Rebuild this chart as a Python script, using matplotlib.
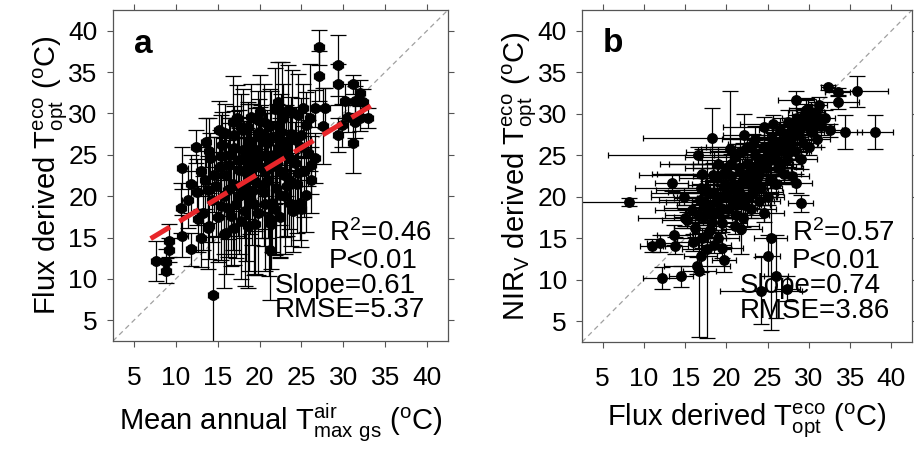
import matplotlib
matplotlib.use('Agg')
from matplotlib import pyplot as plt

plt.rcParams['font.family'] = ['Liberation Sans', 'DejaVu Sans']
plt.rcParams['mathtext.default'] = 'regular'

# ---- panel a: mean annual Tmax gs (x) vs flux derived Topt (y)
a_x = [27.1, 27.1, 29.4, 29.4, 31.2, 32.0, 30.2, 31.4, 32.4, 27.8,
       33.0, 32.0, 30.6, 31.4, 29.8, 29.4, 31.2, 26.6, 25.2, 22.2,
       19.8, 18.6, 17.8, 12.4, 10.8, 13.0, 10.6, 11.4, 10.8, 11.8,
       9.2, 9.2, 7.6, 8.8, 8.8, 14.4, 21.2, 21.4, 18.6, 13.8,
       15.7, 26.2, 26.2, 26.6, 25.0, 23.8, 14.1, 22.7, 26.0, 27.6,
       12.5, 13.2, 13.5, 14.0, 14.3, 14.8, 15.0, 15.3, 15.5, 15.8,
       16.0, 16.2, 16.5, 16.8, 17.0, 17.2, 17.5, 17.8, 18.0, 18.2,
       18.5, 18.8, 19.0, 19.2, 19.5, 19.8, 20.0, 20.2, 20.5, 20.8,
       21.0, 21.2, 21.5, 21.8, 22.0, 22.3, 22.5, 22.8, 23.0, 23.2,
       23.5, 23.8, 24.0, 24.2, 24.5, 24.8, 25.0, 25.3, 25.5, 16.0,
       17.0, 19.5, 14.0, 13.0, 22.5, 20.5, 21.8, 19.0, 18.0, 16.8,
       15.2, 13.6, 24.6, 23.4, 17.6, 20.6, 18.4, 15.4, 12.6, 11.8,
       16.4, 17.4, 18.2, 18.9, 19.6, 20.3, 20.9, 21.6, 22.1, 22.9,
       23.6, 24.3, 17.0, 18.6, 19.9, 21.4, 22.6, 16.2, 17.6, 19.1,
       20.7, 21.9, 23.3, 24.6, 15.4, 14.6, 13.8, 15.9, 17.3, 20.1,
       23.9, 25.6, 24.9, 25.8, 22.4, 19.4, 16.6, 18.3, 21.1, 20.0]
a_y = [38.0, 34.5, 35.8, 33.5, 33.5, 32.5, 31.5, 31.5, 31.4, 30.7,
       29.4, 29.4, 29.6, 29.0, 28.6, 27.4, 26.4, 30.6, 30.6, 31.4,
       29.2, 28.4, 28.4, 26.0, 23.4, 23.0, 18.6, 19.6, 15.2, 13.6,
       14.6, 13.5, 12.2, 12.1, 11.0, 8.1, 13.5, 16.7, 16.4, 16.2,
       15.4, 22.0, 23.8, 24.6, 18.4, 19.0, 24.6, 30.0, 29.5, 28.5,
       20.5, 18.0, 22.0, 25.5, 19.5, 21.2, 17.5, 23.5, 26.2, 20.0,
       22.6, 18.6, 25.0, 21.5, 27.4, 19.0, 23.2, 17.0, 25.6, 21.0,
       22.8, 19.5, 26.6, 24.0, 21.8, 18.0, 23.5, 27.0, 20.5, 25.0,
       22.0, 28.5, 19.2, 24.5, 21.0, 26.0, 23.0, 29.5, 20.0, 25.5,
       22.0, 27.5, 18.2, 24.0, 21.5, 19.2, 26.0, 23.0, 20.2, 15.6,
       16.2, 16.6, 16.4, 15.0, 17.5, 29.0, 30.5, 29.6, 28.0, 29.0,
       28.0, 26.5, 29.8, 30.4, 24.4, 23.0, 20.2, 18.8, 17.2, 21.5,
       23.8, 21.2, 24.6, 22.4, 25.6, 21.4, 26.4, 23.6, 25.2, 22.6,
       24.6, 26.8, 25.8, 26.2, 27.8, 27.2, 27.8, 20.8, 20.0, 20.6,
       19.0, 18.4, 21.2, 22.8, 24.8, 22.6, 20.8, 27.6, 29.4, 30.2,
       30.2, 28.6, 27.4, 25.2, 20.2, 19.0, 17.6, 18.2, 17.4, 24.8]
a_xerr = [0.6] * 160
a_yerr = [2.1, 3.0, 3.7, 2.5, 1.2, 1.5, 2.0, 1.8, 1.5, 2.4,
          1.2, 1.5, 1.8, 2.0, 2.6, 2.0, 3.6, 2.2, 3.0, 4.8,
          3.5, 3.0, 4.0, 2.0, 2.5, 3.0, 3.0, 3.5, 2.5, 2.0,
          2.0, 1.5, 2.4, 1.5, 1.5, 7.0, 6.0, 5.5, 7.5, 5.0,
          6.5, 4.0, 3.5, 3.0, 4.5, 5.0, 3.0, 6.2, 6.5, 4.6,
          4.0, 4.5, 3.5, 4.0, 5.0, 6.0, 5.5, 4.5, 4.0, 7.0,
          5.0, 6.0, 4.5, 8.0, 3.5, 6.5, 5.0, 7.0, 4.0, 6.0,
          5.5, 8.5, 4.5, 5.0, 6.0, 7.5, 5.5, 4.0, 6.5, 5.0,
          7.0, 4.5, 6.0, 5.5, 8.0, 5.0, 6.5, 4.0, 7.0, 5.5,
          6.0, 4.5, 5.0, 5.0, 6.0, 4.5, 4.0, 5.5, 4.5, 5.0,
          4.5, 6.0, 4.0, 3.5, 5.0, 4.5, 5.0, 4.0, 5.0, 5.5,
          3.5, 3.0, 5.0, 5.5, 6.0, 7.0, 8.0, 6.5, 4.0, 3.5,
          5.0, 6.0, 4.5, 7.0, 5.0, 6.5, 4.0, 5.5, 6.0, 7.5,
          5.0, 4.0, 4.5, 5.0, 4.0, 5.5, 4.5, 6.0, 7.0, 6.5,
          8.0, 5.5, 6.0, 4.5, 5.0, 4.5, 4.0, 3.5, 4.0, 4.5,
          5.0, 4.0, 4.5, 4.0, 7.5, 8.5, 6.0, 9.0, 7.0, 6.0]

# fitted line for panel a
a_slope = 0.61
a_intercept = 10.6
a_fit_x = [7.0, 34.4]

# ---- panel b: flux derived Topt (x) vs NIRv derived Topt (y)
b_x = [8.2, 32.3, 33.5, 33.5, 35.8, 34.4, 38.0, 28.4, 29.6, 18.2,
       20.4, 22.1, 16.5, 13.4, 25.6, 23.2, 22.0, 23.1, 29.0, 28.4,
       13.6, 11.0, 12.0, 13.8, 12.2, 14.5, 16.4, 16.7, 17.6, 19.7,
       16.9, 25.4, 25.0, 26.0, 24.2, 27.4, 21.8,
       15.2, 15.8, 16.2, 16.8, 17.2, 17.5, 17.8, 18.0, 18.3, 18.5,
       18.8, 19.0, 19.2, 19.5, 19.8, 20.0, 20.2, 20.5, 20.8, 21.0,
       21.2, 21.5, 21.8, 22.0, 22.3, 22.5, 22.8, 23.0, 23.2, 23.5,
       23.8, 24.0, 24.2, 24.5, 24.8, 25.0, 25.3, 25.5, 25.8, 26.0,
       26.3, 26.5, 26.8, 27.0, 27.3, 27.5, 27.8, 28.0, 28.3, 28.5,
       28.8, 29.0, 29.3, 29.5, 29.8, 30.0, 30.3, 30.5, 31.0, 31.5,
       30.8, 24.0, 23.0, 22.0, 21.0, 19.0, 25.0, 26.0, 27.0, 20.0,
       21.0, 22.5, 23.5, 18.0, 17.0, 16.0, 19.5, 18.5, 24.5, 28.0,
       29.0, 30.0, 31.0, 32.0, 32.5, 31.2, 15.0, 14.8, 17.0, 19.0,
       16.6, 17.4, 18.1, 18.7, 19.3, 19.9, 20.4, 20.9, 21.4, 21.9,
       22.4, 22.9, 23.4, 23.9, 24.4, 24.9, 25.4, 25.9, 26.4, 26.9,
       27.4, 27.9, 28.4, 28.9, 29.4, 29.9, 30.4, 19.6, 20.6, 21.6,
       24.6, 25.6, 21.2, 22.6, 23.6, 26.6, 27.6, 17.8, 16.9, 18.4]
b_y = [19.4, 33.2, 32.6, 31.4, 32.7, 27.8, 27.8, 31.6, 30.4, 27.1,
       25.8, 27.5, 25.0, 21.7, 26.2, 26.4, 25.5, 21.6, 19.2, 21.6,
       15.4, 14.1, 14.4, 14.1, 10.2, 10.4, 11.7, 11.1, 13.7, 12.4,
       12.9, 15.0, 12.9, 10.4, 8.7, 8.9, 16.1,
       17.2, 18.4, 16.2, 19.6, 17.6, 20.8, 15.6, 19.0, 17.0, 20.5,
       22.2, 18.0, 19.8, 16.8, 21.5, 20.0, 18.5, 22.5, 19.5, 21.0,
       17.8, 23.5, 20.2, 22.0, 19.0, 24.0, 21.5, 23.0, 20.5, 25.0,
       22.5, 24.0, 21.0, 26.0, 23.5, 25.0, 22.0, 27.0, 24.5, 26.0,
       23.5, 28.0, 25.5, 27.0, 24.5, 29.0, 26.5, 28.0, 25.5, 29.5,
       27.5, 29.0, 26.5, 30.0, 28.5, 29.5, 27.8, 28.8, 29.5, 28.5,
       30.2, 19.5, 18.5, 17.5, 16.5, 15.0, 20.0, 21.5, 22.8, 23.5,
       24.8, 26.0, 27.0, 16.0, 15.0, 14.5, 13.8, 14.2, 18.0, 22.5,
       24.5, 26.0, 27.0, 29.5, 28.0, 31.0, 17.5, 20.0, 22.8, 24.0,
       17.8, 18.6, 18.0, 19.4, 18.7, 20.6, 19.8, 21.4, 20.6, 21.8,
       22.6, 22.2, 23.6, 23.0, 24.6, 24.2, 25.6, 25.0, 26.6, 26.2,
       27.6, 27.2, 28.6, 28.2, 29.2, 30.6, 30.0, 22.8, 24.0, 25.4,
       28.4, 28.8, 19.0, 20.0, 21.6, 24.0, 25.4, 20.4, 21.0, 22.6]
b_xerr = [6.0, 0.8, 1.5, 2.6, 3.8, 2.0, 2.2, 2.2, 2.0, 8.3,
          3.5, 2.5, 10.9, 2.0, 2.5, 3.0, 4.0, 2.5, 1.5, 2.0,
          2.0, 1.5, 1.6, 1.5, 2.3, 1.5, 4.0, 2.0, 3.0, 1.5,
          2.0, 2.0, 1.5, 1.5, 5.0, 1.5, 2.5,
          3.0, 4.5, 2.5, 5.0, 3.5, 6.0, 2.0, 4.0, 3.0, 5.0,
          4.5, 3.5, 5.5, 3.0, 4.0, 6.0, 3.5, 4.5, 5.0, 3.0,
          4.0, 5.5, 3.5, 4.0, 3.0, 6.5, 3.5, 4.5, 3.0, 5.0,
          3.5, 4.0, 2.5, 3.5, 3.0, 4.0, 2.5, 3.0, 3.5, 2.5,
          3.0, 2.5, 3.0, 2.5, 2.0, 2.0, 2.5, 2.0, 2.0, 1.8,
          2.0, 1.5, 1.8, 1.5, 1.5, 1.5, 1.5, 1.2, 1.2, 1.5,
          1.0, 2.5, 3.0, 2.5, 3.0, 2.5, 2.0, 2.0, 2.0, 5.0,
          6.0, 5.0, 4.0, 2.0, 3.0, 2.0, 2.5, 2.0, 2.5, 2.0,
          2.0, 1.5, 1.5, 1.2, 1.5, 1.0, 5.7, 4.0, 6.0, 7.0,
          4.0, 5.0, 3.0, 6.0, 3.5, 7.0, 4.0, 5.5, 3.0, 4.5,
          6.0, 3.0, 5.0, 3.5, 4.0, 3.0, 3.5, 2.5, 3.0, 2.5,
          2.5, 2.0, 2.0, 2.0, 1.5, 1.5, 1.5, 8.0, 7.5, 6.5,
          5.0, 4.0, 3.0, 3.5, 3.0, 2.5, 2.0, 7.0, 8.0, 9.0]
b_yerr = [0.5, 0.3, 0.5, 0.8, 1.9, 2.0, 2.0, 1.2, 1.5, 3.6,
          7.0, 2.5, 1.0, 1.0, 1.5, 1.2, 1.0, 3.0, 1.0, 1.2,
          1.2, 0.8, 1.0, 1.0, 1.3, 1.3, 1.0, 8.0, 10.7, 1.5,
          2.0, 11.0, 2.5, 5.0, 4.0, 1.5, 3.0,
          1.0, 1.2, 1.0, 1.5, 1.0, 1.5, 1.0, 1.2, 1.0, 1.5,
          1.8, 1.0, 1.2, 1.0, 1.5, 1.2, 1.0, 1.5, 1.2, 1.0,
          1.5, 1.8, 1.2, 1.5, 1.0, 1.5, 1.2, 1.5, 1.0, 1.8,
          1.2, 1.5, 1.0, 1.5, 1.2, 1.5, 1.0, 1.5, 1.2, 1.5,
          1.0, 1.5, 1.2, 1.5, 1.0, 1.5, 1.2, 1.5, 1.0, 1.2,
          1.2, 1.0, 1.0, 1.2, 1.0, 1.2, 1.0, 1.0, 1.0, 1.0,
          1.2, 1.0, 1.0, 1.2, 1.0, 1.0, 1.0, 1.2, 1.0, 1.5,
          1.5, 1.5, 1.5, 1.0, 1.2, 1.0, 1.2, 1.0, 1.0, 1.0,
          1.2, 1.0, 1.0, 1.0, 0.8, 1.0, 1.0, 1.0, 3.0, 2.0,
          1.0, 1.2, 1.0, 1.5, 1.0, 1.2, 1.0, 1.5, 1.0, 1.2,
          1.5, 1.0, 1.2, 1.0, 1.5, 1.0, 1.2, 1.0, 1.5, 1.0,
          1.2, 1.0, 1.2, 1.0, 1.0, 1.2, 1.0, 1.5, 1.2, 1.5,
          1.2, 1.0, 1.0, 1.2, 1.0, 1.0, 1.0, 1.5, 1.2, 1.5]

ticks = [5, 10, 15, 20, 25, 30, 35, 40]
lims = (2.5, 42.5)

a_stats = ['R$^2$=0.46', 'P<0.01', 'Slope=0.61', 'RMSE=5.37']
b_stats = ['R$^2$=0.57', 'P<0.01', 'Slope=0.74', 'RMSE=3.86']

fig = plt.figure(figsize=(9.14, 4.51), dpi=100)
ax_a = fig.add_axes([0.1236, 0.2439, 0.3665, 0.7339])
ax_b = fig.add_axes([0.6368, 0.2417, 0.3611, 0.7361])


def draw_panel(ax, x, y, xe, ye):
    ax.plot(lims, lims, ls=(0, (4, 3)), color='#a0a0a0', lw=0.9, zorder=1)
    ax.errorbar(x, y, yerr=ye, fmt='none', ecolor='k', elinewidth=0.9,
                capsize=5.5, capthick=0.9, zorder=2)
    ax.errorbar(x, y, xerr=xe, fmt='none', ecolor='k', elinewidth=0.9,
                capsize=2.5, capthick=0.9, zorder=2)
    ax.plot(x, y, 'o', color='k', ms=6.8, zorder=3)
    ax.set_xlim(lims)
    ax.set_ylim(lims)
    ax.set_xticks(ticks)
    ax.set_yticks(ticks)
    ax.tick_params(direction='out', top=True, right=True, length=4,
                   width=0.8, color='#555555', labelsize=19)
    ax.tick_params(axis='x', pad=14)
    ax.tick_params(axis='y', pad=7)
    for sp in ax.spines.values():
        sp.set_color('#555555')
        sp.set_linewidth(0.9)


draw_panel(ax_a, a_x, a_y, a_xerr, a_yerr)
draw_panel(ax_b, b_x, b_y, b_xerr, b_yerr)

# red regression line on panel a
fx = a_fit_x
fy = [a_slope * v + a_intercept for v in fx]
ax_a.plot(fx, fy, color='#e8262a', lw=3.6, ls=(0, (4.5, 2.2)), zorder=4,
          solid_capstyle='butt')

stat_font = dict(fontsize=20, va='center', ha='left')
for ax, st, x1, x2 in [(ax_a, a_stats, 28.3, 21.8), (ax_b, b_stats, 27.9, 21.6)]:
    ax.text(x1, 15.6, st[0], **stat_font)
    ax.text(x1, 12.2, st[1], **stat_font)
    ax.text(x2, 9.2, st[2], **stat_font)
    ax.text(x2, 6.2, st[3], **stat_font)

ax_a.text(5.0, 37.3, 'a', fontsize=24, fontweight='bold', va='baseline')
ax_b.text(5.0, 37.5, 'b', fontsize=24, fontweight='bold', va='baseline')

ax_a.set_xlabel('Mean annual T$^{air}_{max\\ gs}$ ($^{o}$C)', fontsize=21, labelpad=8)
ax_a.set_ylabel('Flux derived T$^{eco}_{opt}$ ($^{o}$C)', fontsize=21, labelpad=-1)
ax_b.set_xlabel('Flux derived T$^{eco}_{opt}$ ($^{o}$C)', fontsize=21, labelpad=8)
ax_b.set_ylabel('NIR$_{V}$ derived T$^{eco}_{opt}$ ($^{o}$C)', fontsize=21, labelpad=-1)

fig.savefig('out.png', dpi=100)
